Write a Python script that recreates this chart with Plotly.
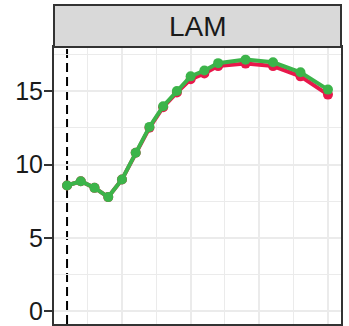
import plotly.graph_objects as go

# Data
x_vals = [1, 2, 3, 4, 5, 6, 7, 8, 9, 10, 11, 12, 14, 16, 18, 20]
green_vals = [8.57, 8.86, 8.41, 7.78, 8.98, 10.8, 12.56, 13.97, 15.0, 16.0, 16.4, 16.9, 17.14, 16.96, 16.28, 15.1]
red_vals = [8.57, 8.86, 8.41, 7.78, 8.98, 10.8, 12.5, 13.9, 14.9, 15.8, 16.2, 16.7, 16.87, 16.7, 16.0, 14.76]
ref_x = 1
panel_title = "LAM"
y_ticks = [0, 5, 10, 15]

RED = "#E8184B"
GREEN = "#3CB44A"
FONT = "Liberation Sans, Arial, sans-serif"

fig = go.Figure()
fig.add_trace(go.Scatter(x=x_vals, y=red_vals, mode="lines+markers",
                         line=dict(color=RED, width=4),
                         marker=dict(color=RED, size=10), showlegend=False, cliponaxis=False))
fig.add_trace(go.Scatter(x=x_vals, y=green_vals, mode="lines+markers",
                         line=dict(color=GREEN, width=4),
                         marker=dict(color=GREEN, size=10), showlegend=False, cliponaxis=False))

fig.add_shape(type="line", xref="x", yref="paper", x0=ref_x, x1=ref_x, y0=0, y1=1,
              line=dict(color="black", width=2, dash="9px,5px"), layer="between")

top_m = 47
bot_m = 2
ph = 326 - top_m - bot_m
strip_h = 42
fig.add_shape(type="rect", xref="paper", yref="paper", x0=0, x1=1, y0=1, y1=1 + strip_h / ph,
              fillcolor="#D9D9D9", line=dict(color="#333333", width=2), layer="above")
fig.add_annotation(xref="paper", yref="paper", x=0.5, y=1 + strip_h / ph / 2,
                   text=panel_title, showarrow=False, yanchor="middle",
                   font=dict(family=FONT, size=28, color="#1A1A1A"))

fig.update_layout(
    width=349, height=326,
    margin=dict(l=54, r=8, t=top_m, b=bot_m, autoexpand=False),
    paper_bgcolor="white", plot_bgcolor="white",
    font=dict(family=FONT),
    xaxis=dict(range=[0.05, 20.95], showticklabels=False, ticks="", automargin=False,
               tick0=0, dtick=5, showgrid=True, gridcolor="#EBEBEB", gridwidth=1.8,
               minor=dict(dtick=2.5, showgrid=True, gridcolor="#EBEBEB", gridwidth=1.4),
               zeroline=False, showline=True, mirror=True, linecolor="#333333", linewidth=2),
    yaxis=dict(range=[-0.86, 18.0], tickvals=y_ticks, ticks="outside", ticklen=8,
               tickwidth=2, tickcolor="#333333", automargin=False, ticklabelstandoff=-4,
               tickfont=dict(family=FONT, size=25, color="#1A1A1A"),
               showgrid=True, gridcolor="#EBEBEB", gridwidth=1.8,
               minor=dict(dtick=2.5, tick0=0, showgrid=True, gridcolor="#EBEBEB", gridwidth=1.4),
               zeroline=False, showline=True, mirror=True, linecolor="#333333", linewidth=2),
)

fig.write_html("out.html", config={"displayModeBar": False},
               post_script="document.body.style.margin='0';document.body.style.overflow='hidden';")
